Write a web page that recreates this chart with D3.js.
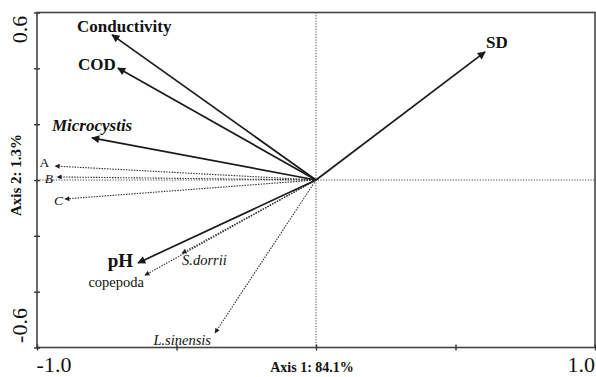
<!DOCTYPE html>
<html>
<head>
<meta charset="utf-8">
<script src="https://cdnjs.cloudflare.com/ajax/libs/d3/7.8.5/d3.min.js"></script>
<style>
  body { margin: 0; background: #fff; }
  svg { display: block; }
  text { font-family: "Liberation Serif", "Times New Roman", serif; fill: #111; }
</style>
</head>
<body>
<div class="svg-container"></div>
<script>
// environmental variables (solid arrows)
const envNames = ["Conductivity", "COD", "Microcystis", "pH", "SD"];
const envX = [-0.731, -0.710, -0.803, -0.638, 0.606];
const envY = [0.520, 0.401, 0.151, -0.297, 0.459];

// species (dotted arrows)
const spNames = ["A", "B", "C", "copepoda", "S.dorrii", "L.sinensis"];
const spX = [-0.935, -0.928, -0.900, -0.613, -0.480, -0.362];
const spY = [0.050, 0.011, -0.068, -0.341, -0.262, -0.548];

// axis ticks
const xTicks = [-1, -0.5, 0, 0.5, 1];
const yTicks = [-0.6, -0.4, -0.2, 0, 0.2, 0.4, 0.6];
const xTickLabels = ["-1.0", "1.0"];
const yTickLabels = ["0.6", "-0.6"];
const xTitle = "Axis 1: 84.1%";
const yTitle = "Axis 2: 1.3%";

var w = 596, h = 377;

const svg = d3.select(".svg-container")
  .append("svg")
  .attr("width", w)
  .attr("height", h)
  .attr("font-family", "Liberation Serif, serif");

const x = d3.scaleLinear().domain([-1, 1]).range([37, 595]);
const y = d3.scaleLinear().domain([-0.6, 0.6]).range([347.5, 12.5]);

// arrow markers
const defs = svg.append("defs");
defs.append("marker")
  .attr("id", "head-solid")
  .attr("viewBox", "0 0 10 10")
  .attr("refX", 9).attr("refY", 5)
  .attr("markerUnits", "userSpaceOnUse")
  .attr("markerWidth", 10).attr("markerHeight", 8)
  .attr("orient", "auto")
  .append("path")
  .attr("d", "M0,0 L10,5 L0,10 Z")
  .attr("fill", "#1a1a1a");
defs.append("marker")
  .attr("id", "head-dot")
  .attr("viewBox", "0 0 10 10")
  .attr("refX", 9).attr("refY", 5)
  .attr("markerUnits", "userSpaceOnUse")
  .attr("markerWidth", 6).attr("markerHeight", 5)
  .attr("orient", "auto")
  .append("path")
  .attr("d", "M0,0 L10,5 L0,10 Z")
  .attr("fill", "#222");

// dotted zero lines
svg.append("line")
  .attr("x1", x(0)).attr("x2", x(0))
  .attr("y1", y(0.6)).attr("y2", y(-0.6))
  .attr("stroke", "#444").attr("stroke-width", 1)
  .attr("stroke-dasharray", "1.2,1.5");
svg.append("line")
  .attr("x1", x(-1)).attr("x2", x(1))
  .attr("y1", y(0)).attr("y2", y(0))
  .attr("stroke", "#444").attr("stroke-width", 1)
  .attr("stroke-dasharray", "1.2,1.5");

// frame
svg.append("rect")
  .attr("x", x(-1)).attr("y", y(0.6))
  .attr("width", x(1) - x(-1)).attr("height", y(-0.6) - y(0.6))
  .attr("fill", "none")
  .attr("stroke", "#444").attr("stroke-width", 1.6);

// crossing ticks: draw an axis on each side of the same line
function tickAxis(axis, tr) {
  const g = svg.append("g").attr("transform", tr).call(axis);
  g.select(".domain").remove();
  g.selectAll("line").attr("stroke", "#333").attr("stroke-width", 1.4);
  g.selectAll("text").remove();
}
tickAxis(d3.axisLeft(y).tickValues(yTicks).tickSize(3), "translate(" + x(-1) + ",0)");
tickAxis(d3.axisRight(y).tickValues(yTicks).tickSize(3), "translate(" + x(-1) + ",0)");
tickAxis(d3.axisBottom(x).tickValues(xTicks).tickSize(3), "translate(0," + y(-0.6) + ")");
tickAxis(d3.axisTop(x).tickValues(xTicks).tickSize(3), "translate(0," + y(-0.6) + ")");

// tick labels
svg.append("text")
  .attr("x", x(-1) + 17).attr("y", 372)
  .attr("text-anchor", "middle").attr("font-size", 22)
  .text(xTickLabels[0]);
svg.append("text")
  .attr("x", x(1)).attr("y", 372)
  .attr("text-anchor", "end").attr("font-size", 22)
  .text(xTickLabels[1]);
svg.append("text")
  .attr("transform", "translate(27," + (y(0.6) + 17) + ") rotate(-90)")
  .attr("text-anchor", "middle").attr("font-size", 22)
  .text(yTickLabels[0]);
svg.append("text")
  .attr("transform", "translate(27," + (y(-0.6) - 22) + ") rotate(-90)")
  .attr("text-anchor", "middle").attr("font-size", 22)
  .text(yTickLabels[1]);

// axis titles
svg.append("text")
  .attr("x", x(0) - 4).attr("y", 372)
  .attr("text-anchor", "middle").attr("font-size", 14).attr("font-weight", "bold")
  .text(xTitle);
svg.append("text")
  .attr("transform", "translate(21," + (y(0) - 5) + ") rotate(-90)")
  .attr("text-anchor", "middle").attr("font-size", 15).attr("font-weight", "bold")
  .text(yTitle);

// species arrows (dotted)
const spData = spNames.map((n, i) => ({ name: n, x: spX[i], y: spY[i] }));
svg.selectAll(".sp-arrow")
  .data(spData)
  .enter()
  .append("line")
  .attr("class", "sp-arrow")
  .attr("x1", x(0)).attr("y1", y(0))
  .attr("x2", d => x(d.x)).attr("y2", d => y(d.y))
  .attr("stroke", "#333").attr("stroke-width", 1.1)
  .attr("stroke-dasharray", "1.5,1.2")
  .attr("marker-end", "url(#head-dot)");

// environmental arrows (solid)
const envData = envNames.map((n, i) => ({ name: n, x: envX[i], y: envY[i] }));
svg.selectAll(".env-arrow")
  .data(envData)
  .enter()
  .append("line")
  .attr("class", "env-arrow")
  .attr("x1", x(0)).attr("y1", y(0))
  .attr("x2", d => x(d.x)).attr("y2", d => y(d.y))
  .attr("stroke", "#1a1a1a").attr("stroke-width", 1.7)
  .attr("marker-end", "url(#head-solid)");

// label placement relative to arrow tip: [dx, dy, anchor]
const labelPos = {
  "Conductivity": [-35, -3, "start"],
  "COD": [-40, 2, "start"],
  "Microcystis": [-40, -7, "start"],
  "pH": [-5, 4, "end"],
  "SD": [1, -4, "start"],
  "A": [-6, 1, "end"],
  "B": [-4, 6, "end"],
  "C": [-2, 6, "end"],
  "copepoda": [-1, 12, "end"],
  "S.dorrii": [0, 12, "start"],
  "L.sinensis": [-4, 12, "end"]
};

svg.selectAll(".env-label")
  .data(envData)
  .enter()
  .append("text")
  .attr("class", "env-label")
  .attr("x", d => x(d.x) + labelPos[d.name][0])
  .attr("y", d => y(d.y) + labelPos[d.name][1])
  .attr("text-anchor", d => labelPos[d.name][2])
  .attr("font-weight", "bold")
  .attr("font-style", d => d.name === "Microcystis" ? "italic" : "normal")
  .attr("font-size", d => d.name === "pH" ? 19 : 17)
  .text(d => d.name);

svg.selectAll(".sp-label")
  .data(spData)
  .enter()
  .append("text")
  .attr("class", "sp-label")
  .attr("x", d => x(d.x) + labelPos[d.name][0])
  .attr("y", d => y(d.y) + labelPos[d.name][1])
  .attr("text-anchor", d => labelPos[d.name][2])
  .attr("font-style", d => (d.name === "A" || d.name === "copepoda") ? "normal" : "italic")
  .attr("font-size", d => d.name.length === 1 ? 13.5 : 14.5)
  .text(d => d.name);
</script>
</body>
</html>
